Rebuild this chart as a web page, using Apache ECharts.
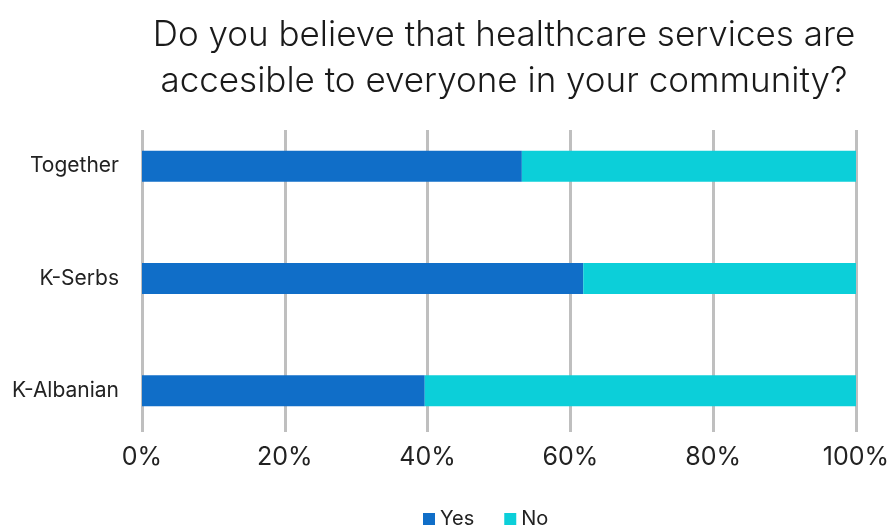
<!DOCTYPE html>
<html>
<head>
<meta charset="utf-8">
<script src="https://cdn.jsdelivr.net/npm/echarts@6/dist/echarts.min.js"></script>
<style>html,body{margin:0;padding:0;background:#fff}#c{width:893px;height:525px}</style>
</head>
<body>
<div id="c"></div>
<script>
const categories = ['Together', 'K-Serbs', 'K-Albanian'];
const yesValues = [53.2, 61.8, 39.6];
const noValues = [46.8, 38.2, 60.4];
const seriesNames = ['Yes', 'No'];
const tickValues = [0, 20, 40, 60, 80, 100];

const chart = echarts.init(document.getElementById('c'));
const font = 'Inter, "Noto Sans", sans-serif';
chart.setOption({
  animation: false,
  title: {
    text: 'Do you believe that healthcare services are\naccesible to everyone in your community?',
    left: 499, textAlign: 'center', top: 7,
    textStyle: { fontFamily: font, fontSize: 35, fontWeight: 300, color: '#1a1a1a', lineHeight: 46 }
  },
  legend: {
    data: seriesNames, top: 504, left: 418, icon: 'rect', itemWidth: 12, itemHeight: 12, itemGap: 30,
    textStyle: { fontFamily: font, fontSize: 20, color: '#222' }
  },
  grid: [
    { left: 142, right: 37, top: 110, bottom: 78 },
    { left: 142, right: 37, top: 130, bottom: 93 }
  ],
  xAxis: [
    { type: 'value', gridIndex: 0, min: 0, max: 100, interval: 20, show: false, splitLine: { show: false } },
    { type: 'value', gridIndex: 1, min: 0, max: 100, interval: 20,
      axisLine: { show: false }, axisTick: { show: false },
      axisLabel: { formatter: v => v + '%', fontFamily: font, fontSize: 25, color: '#222', margin: 13 },
      splitLine: { show: true, lineStyle: { color: '#bfbfbf', width: 3 } } }
  ],
  yAxis: [
    { type: 'category', gridIndex: 0, data: categories, inverse: true,
      axisLine: { show: false }, axisTick: { show: false },
      axisLabel: { fontFamily: font, fontSize: 21, color: '#222', margin: 23 } },
    { type: 'category', gridIndex: 1, data: categories, show: false }
  ],
  series: [
    { name: seriesNames[0], type: 'bar', stack: 's', data: yesValues, barWidth: 31, itemStyle: { color: '#106ec8' }, z: 3 },
    { name: seriesNames[1], type: 'bar', stack: 's', data: noValues, barWidth: 31, itemStyle: { color: '#0ccfd9' }, z: 3 }
  ]
});
</script>
</body>
</html>
